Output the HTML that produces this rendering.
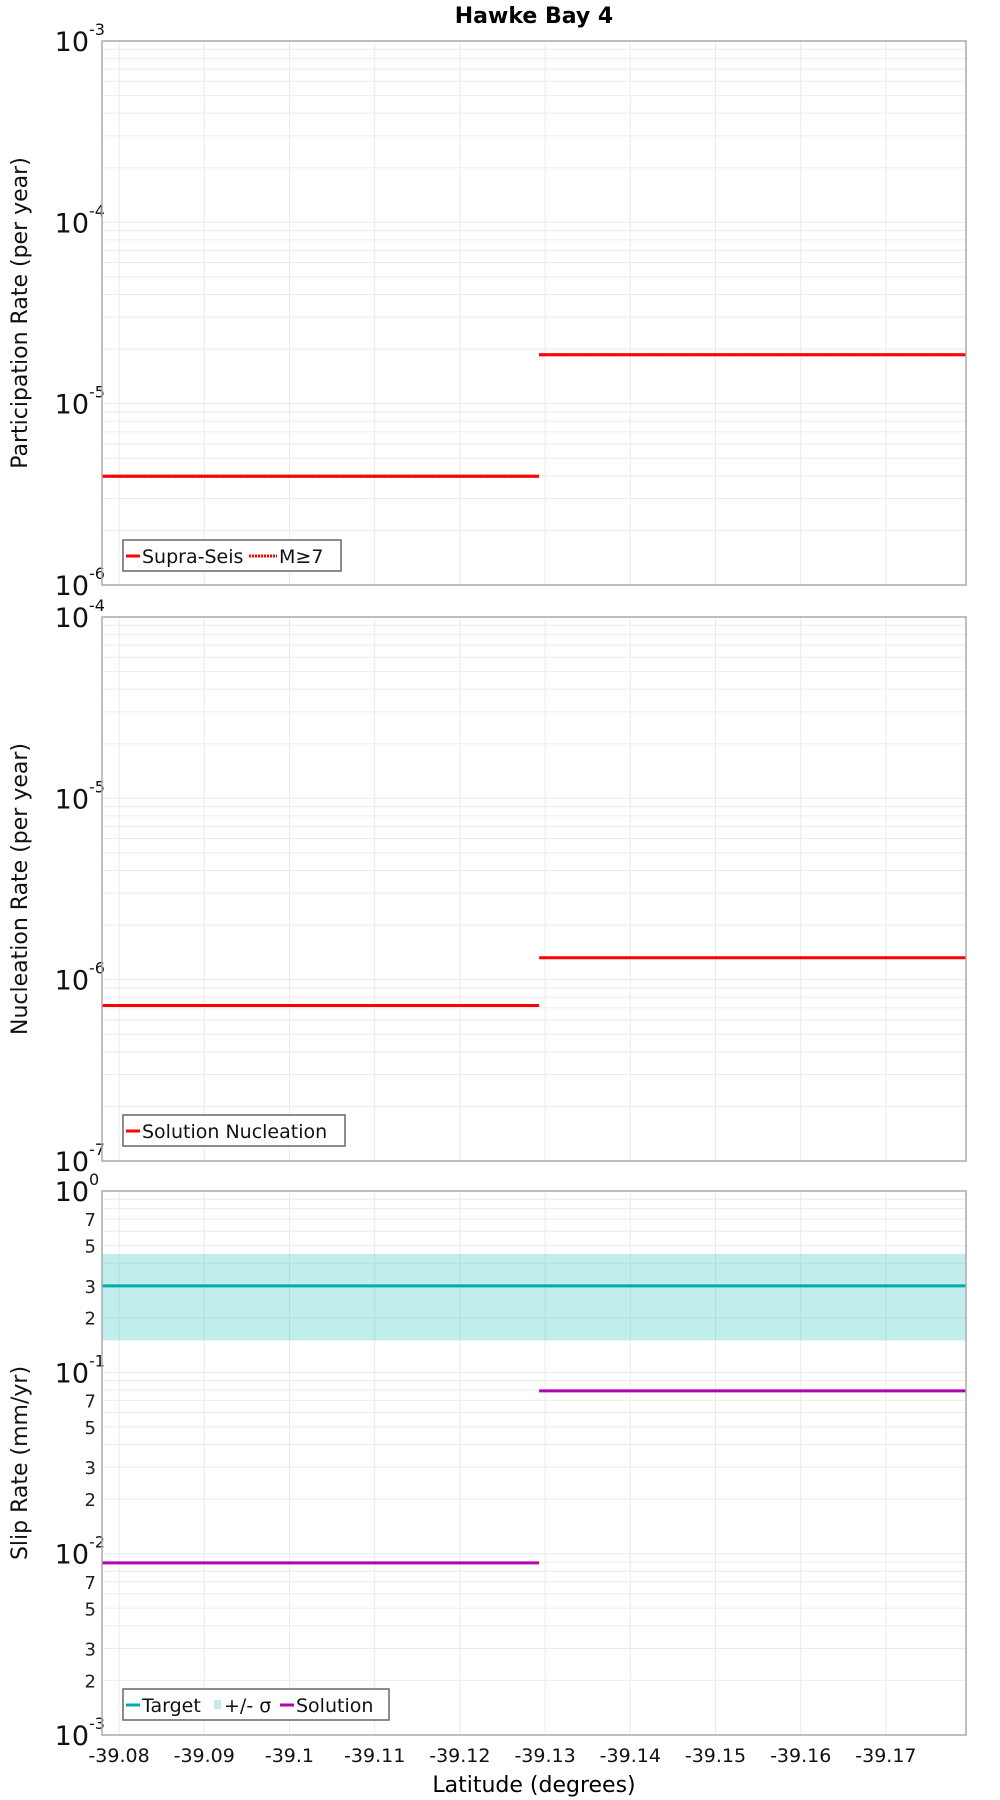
<!DOCTYPE html>
<html><head><meta charset="utf-8"><style>
html,body{margin:0;padding:0;background:#fff;}
svg{display:block;font-family:"DejaVu Sans","Liberation Sans",sans-serif;}
</style></head><body>
<svg id="chart" width="1000" height="1800" viewBox="0 0 1000 1800" xmlns="http://www.w3.org/2000/svg">
<text x="534" y="23" text-anchor="middle" font-size="22" font-weight="bold">Hawke Bay 4</text>
<text x="534" y="1792" text-anchor="middle" font-size="22">Latitude (degrees)</text>
</svg>
<script>
// ---- data ----
const xTicks = [-39.08,-39.09,-39.10,-39.11,-39.12,-39.13,-39.14,-39.15,-39.16,-39.17];
const xTickLabels = ["-39.08","-39.09","-39.1","-39.11","-39.12","-39.13","-39.14","-39.15","-39.16","-39.17"];
const xDomain = [-39.078, -39.1794];
const segBounds = [-39.078, -39.1293, -39.1794];
const partSupra = [3.98e-6, 1.86e-5];
const partM7 = [3.98e-6, 1.86e-5];
const nuclSol = [7.2e-7, 1.32e-6];
const slipTarget = [0.30, 0.30];
const slipUpper = [0.45, 0.45];
const slipLower = [0.15, 0.15];
const slipSol = [0.0089, 0.079];
const partDecades = [-6, -3];
const nuclDecades = [-7, -4];
const slipDecades = [-3, 0];

const NS = "http://www.w3.org/2000/svg";
const svg = document.getElementById('chart');
const L = 102, R = 966;
function xs(v){ return L + (v - xDomain[0])/(xDomain[1]-xDomain[0])*(R-L); }
function mk(tag, attrs, parent){
  const e = document.createElementNS(NS, tag);
  for (const k in attrs) e.setAttribute(k, attrs[k]);
  (parent||svg).appendChild(e);
  return e;
}
function makeY(top, bot, dec){
  return v => bot - (Math.log10(v) - dec[0])/(dec[1]-dec[0])*(bot-top);
}

function panel(name, top, bot, dec, yTitle, minorLabels){
  const g = mk('g', {});
  
  
  const ys = makeY(top, bot, dec);
  for (let d = dec[0]; d < dec[1]; d++){
    for (let m = 1; m <= 9; m++){
      const y = ys(m*Math.pow(10,d));
      const gl = mk('line', {x1:L, x2:R, y1:y, y2:y, stroke:'#ebebeb', 'stroke-width':1}, g);
      
      
      if (minorLabels && [2,3,5,7].includes(m)){
        const t = mk('text', {x:L-6, y:y+7, 'text-anchor':'end', 'font-size':18, fill:'#222'}, g);
        
        
        t.textContent = String(m);
      }
    }
  }
  xTicks.forEach(v => {
    const gl = mk('line', {x1:xs(v), x2:xs(v), y1:top, y2:bot, stroke:'#ebebeb', 'stroke-width':1}, g);
    
    
  });
  for (let d = dec[0]; d <= dec[1]; d++){
    const y = ys(Math.pow(10,d));
    const t = mk('text', {x:L-13, y:y+10, 'text-anchor':'end', 'font-size':27, fill:'#111'}, g);
    
    
    t.textContent = '10';
    const s = mk('text', {x:L-13, y:y-6, 'font-size':16, fill:'#111'}, g);
    
    
    s.textContent = String(d);
  }
  const cy = (top+bot)/2;
  const yt = mk('text', {x:0, y:0, transform:`translate(27,${cy}) rotate(-90)`, 'text-anchor':'middle', 'font-size':22, fill:'#111'}, g);
  
  
  yt.textContent = yTitle;
  return {g, ys, top, bot};
}
function frame(p){
  const r = mk('rect', {x:L, y:p.top, width:R-L, height:p.bot-p.top, fill:'none', stroke:'#aaaaaa', 'stroke-width':1.5});
  
  
}
function steps(p, vals, color, name, dash){
  vals.forEach((v,i) => {
    const y = p.ys(v);
    const a = {x1:xs(segBounds[i]), x2:xs(segBounds[i+1]), y1:y, y2:y, stroke:color, 'stroke-width':3};
    if (dash) a['stroke-dasharray'] = dash;
    const l = mk('line', a);
    
    
  });
}
function legend(x, y, w, items){
  const g = mk('g', {});
  
  
  const r = mk('rect', {x:x, y:y, width:w, height:31, fill:'#fff', stroke:'#666', 'stroke-width':1.5}, g);
  
  
  let cx = x + 3;
  items.forEach(it => {
    let sw;
    if (it.type === 'box'){
      sw = mk('rect', {x:cx+2, y:y+11, width:7, height:9, fill:it.color}, g);
      cx += 12;
    } else {
      const a = {x1:cx, x2:cx+14, y1:y+16, y2:y+16, stroke:it.color, 'stroke-width':3};
      if (it.dash) { a['stroke-dasharray'] = it.dash; a.x2 = cx+28; }
      sw = mk('line', a, g);
      cx += it.dash ? 30 : 16;
    }
    
    
    const t = mk('text', {x:cx, y:y+23, 'font-size':19, fill:'#111'}, g);
    
    
    t.textContent = it.label;
    cx += it.w;
  });
}

const p1 = panel('participation-panel', 41, 585, partDecades, 'Participation Rate (per year)', false);
steps(p1, partSupra, '#ff0000', 'supra-seis-line');
steps(p1, partM7, '#ff0000', 'm7-line', '2,1');
frame(p1);
legend(123, 540, 218, [
  {label:'Supra-Seis', color:'#ff0000', w:107},
  {label:'M≥7', color:'#ff0000', dash:'2,1', w:40}
]);

const p2 = panel('nucleation-panel', 617, 1161, nuclDecades, 'Nucleation Rate (per year)', false);
steps(p2, nuclSol, '#ff0000', 'solution-nucleation-line');
frame(p2);
legend(123, 1115, 222, [
  {label:'Solution Nucleation', color:'#ff0000', w:200}
]);

const p3 = panel('slip-rate-panel', 1191, 1735, slipDecades, 'Slip Rate (mm/yr)', true);
slipUpper.forEach((u,i) => {
  const yT = p3.ys(u), yB = p3.ys(slipLower[i]);
  const b = mk('rect', {x:xs(segBounds[i]), y:yT, width:xs(segBounds[i+1])-xs(segBounds[i]), height:yB-yT, fill:'rgba(0,180,180,0.24)'});
  
  
});
steps(p3, slipTarget, '#00adad', 'target-line');
steps(p3, slipSol, '#b400b4', 'solution-line');
frame(p3);
legend(123, 1689, 266, [
  {label:'Target', color:'#00adad', w:70},
  {label:'+/- σ', color:'#c2ecec', type:'box', w:56},
  {label:'Solution', color:'#b400b4', w:90}
]);

xTicks.forEach((v,i) => {
  const t = mk('text', {x:xs(v), y:1762, 'text-anchor':'middle', 'font-size':19, fill:'#111'});
  
  
  t.textContent = xTickLabels[i];
});
</script>
</body></html>
